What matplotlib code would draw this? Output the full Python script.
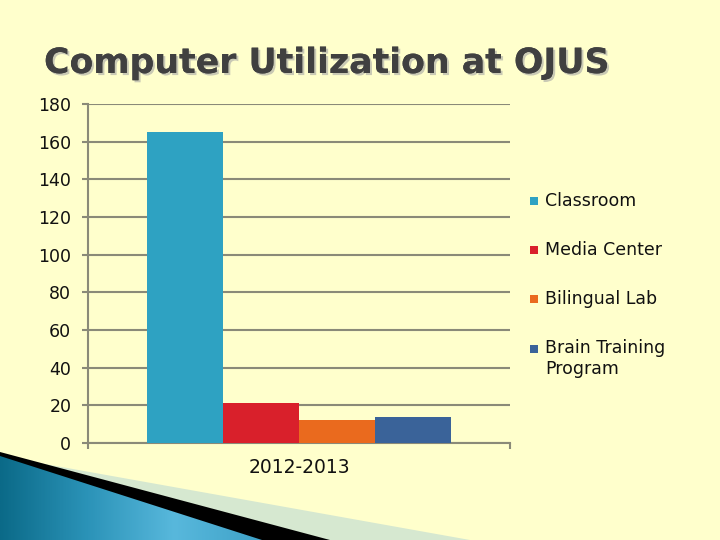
import numpy as np
import matplotlib
matplotlib.use("Agg")
import matplotlib.pyplot as plt
from matplotlib.patches import Polygon, Rectangle
import matplotlib.patheffects as pe

# ---- data ----
title = "Computer Utilization at OJUS"
categories = ["2012-2013"]
series_names = ["Classroom", "Media Center", "Bilingual Lab", "Brain Training\nProgram"]
series_values = [165, 21, 12, 14]
series_colors = ["#2EA2C2", "#D9202B", "#EA6A1E", "#3A6399"]
y_ticks = [0, 20, 40, 60, 80, 100, 120, 140, 160, 180]

BG = "#FFFFCC"
GRID = "#8A8A78"

fig = plt.figure(figsize=(7.2, 5.4), dpi=100, facecolor=BG)

# ---- decoration (bottom-left swoosh), in pixel coordinates ----
deco = fig.add_axes([0, 0, 1, 1], zorder=0)
deco.set_xlim(0, 720)
deco.set_ylim(540, 0)
deco.axis("off")
deco.patch.set_alpha(0)
light = Polygon([(0, 456), (470, 540), (0, 540)], closed=True, facecolor="#D6E8D0", edgecolor="none")
black = Polygon([(0, 452), (330, 540), (0, 540)], closed=True, facecolor="#000000", edgecolor="none")
blue = Polygon([(0, 456), (262, 540), (0, 540)], closed=True, facecolor="none", edgecolor="none")
deco.add_patch(light)
deco.add_patch(black)
deco.add_patch(blue)
gx = np.linspace(0, 1, 300)
grad = np.vstack([gx] * 10)
cmap = matplotlib.colors.LinearSegmentedColormap.from_list(
    "sw", ["#0B6A88", "#2B93B8", "#58B8DC", "#3FA2C8"])
im = deco.imshow(grad, extent=(0, 262, 540, 450), cmap=cmap, aspect="auto", zorder=3)
im.set_clip_path(blue)

# ---- legend (manual, in pixel coords of the deco axes) ----
legend_rows = [201, 250, 299, 349]
for name, col, yy in zip(series_names, series_colors, legend_rows):
    deco.add_patch(Rectangle((530, yy - 4), 8, 8, facecolor=col, edgecolor="none", zorder=5))
    if "\n" in name:
        deco.text(545, yy, name, fontsize=12.5, family="DejaVu Sans", color="#111111",
                  va="top", ha="left", linespacing=1.25, zorder=5,
                  transform=matplotlib.transforms.offset_copy(deco.transData, fig=fig, y=10, units="dots"))
    else:
        deco.text(545, yy, name, fontsize=12.5, family="DejaVu Sans", color="#111111",
                  va="center", ha="left", zorder=5)

# ---- main chart ----
ax = fig.add_axes([88 / 720, 1 - 443 / 540, (510 - 88) / 720, (443 - 104) / 540], zorder=2)
ax.set_facecolor("none")
n = len(series_names)
width = 0.18
x0 = np.arange(len(categories))
for i, (name, val, col) in enumerate(zip(series_names, series_values, series_colors)):
    ax.bar(x0 + (i - (n - 1) / 2) * width, [val], width=width * 0.99, color=col,
           label=name, zorder=3)

ax.set_xlim(-0.5, 0.5)
ax.set_ylim(0, 180)
ax.set_yticks(y_ticks)
ax.set_yticklabels([str(v) for v in y_ticks], fontsize=12.5, family="DejaVu Sans", color="#111111")
ax.yaxis.grid(True, color=GRID, linewidth=1.5, zorder=1)
ax.set_axisbelow(True)
ax.tick_params(axis="y", direction="out", length=4.5, width=1.5, color=GRID, pad=7.5)
ax.set_xticks([-0.5, 0.5])
ax.set_xticklabels(["", ""])
ax.tick_params(axis="x", direction="out", length=4.5, width=1.5, color=GRID)
ax.set_xticks(x0, minor=True)
ax.set_xticklabels(categories, minor=True, fontsize=13.5,
                   family="DejaVu Sans", color="#111111")
ax.tick_params(axis="x", which="minor", length=0, pad=11)
for s in ["top", "right"]:
    ax.spines[s].set_visible(False)
for s in ["left", "bottom"]:
    ax.spines[s].set_color(GRID)
    ax.spines[s].set_linewidth(1.5)

fig.text(44 / 720, 1 - 63 / 540, title, fontsize=25, fontweight="bold",
         family="DejaVu Sans", color="#404040", va="center", ha="left",
         path_effects=[pe.withSimplePatchShadow(offset=(1.5, -1.5), shadow_rgbFace="#C9C9B4", alpha=1),
                       pe.Normal()])

fig.savefig("out.png", dpi=100, facecolor=BG)
